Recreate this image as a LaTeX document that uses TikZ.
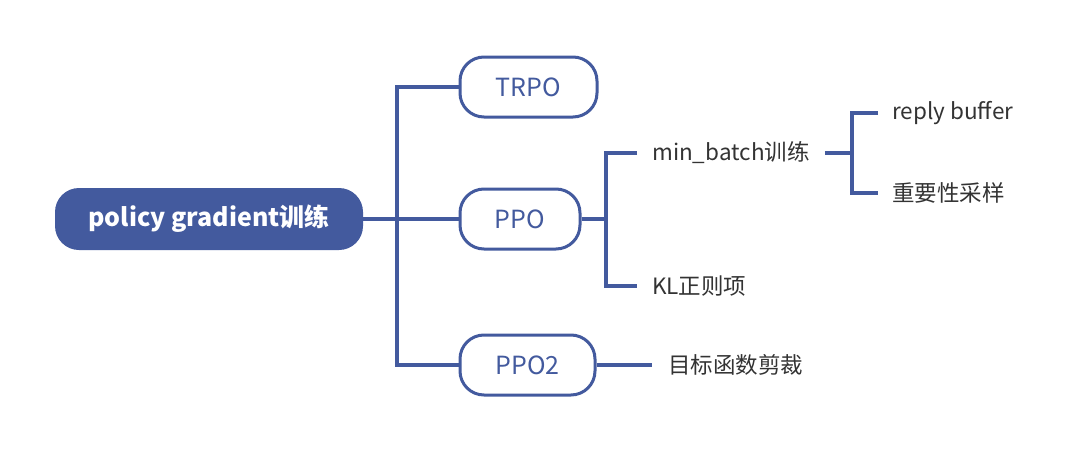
\documentclass[tikz,border=0pt]{standalone}
\usepackage{fontspec}
\setmainfont{Noto Sans CJK SC}
\definecolor{mblue}{HTML}{435A9E}
\definecolor{mtext}{HTML}{333333}
\begin{document}
\begin{tikzpicture}[x=1pt,y=-1pt,
  conn/.style={draw=mblue,line width=4pt},
  rootbox/.style={fill=mblue,rounded corners=24pt,minimum width=308pt,minimum height=62pt,text=white,font=\fontsize{25}{28}\selectfont\bfseries,inner sep=0pt},
  subbox/.style={draw=mblue,line width=3pt,fill=white,rounded corners=24pt,minimum height=60pt,text=mblue,font=\fontsize{25}{28}\selectfont,inner sep=0pt},
  leaf/.style={text=mtext,font=\fontsize{22.5}{26}\selectfont,anchor=west,inner sep=0pt}]
\useasboundingbox (0,0) rectangle (1080,453);
\node[rootbox] (root) at (209,219) {policy gradient训练};
\node[subbox,minimum width=137pt] (trpo) at (528.5,87) {TRPO};
\node[subbox,minimum width=120pt] (ppo) at (520,219) {PPO};
\node[subbox,minimum width=135pt] (ppo2) at (527.5,365) {PPO2};
\node[leaf] (mb) at (652,153) {min\_batch训练};
\node[leaf] (kl) at (652,286) {KL正则项};
\node[leaf] (rb) at (892,113) {reply buffer};
\node[leaf] (is) at (892,193) {重要性采样};
\node[leaf] (obj) at (668,365) {目标函数剪裁};
\coordinate (t1) at (397,219);
\coordinate (p1) at (606,219);
\coordinate (m1) at (852,153);
% trunk
\draw[conn] (root.east) -- (ppo.west);
\draw[conn] (trpo.west) -| (t1) |- (ppo2.west);
% PPO branches
\draw[conn] (ppo.east) -- (p1);
\draw[conn] ([xshift=-15pt]mb.west) -| (p1) |- ([xshift=-15pt]kl.west);
% min_batch branches
\draw[conn] ([xshift=15pt]mb.east) -- (m1);
\draw[conn] ([xshift=-14pt]rb.west) -| (m1) |- ([xshift=-14pt]is.west);
% PPO2
\draw[conn] (ppo2.east) -- ([xshift=-16pt]obj.west);
\end{tikzpicture}
\end{document}
